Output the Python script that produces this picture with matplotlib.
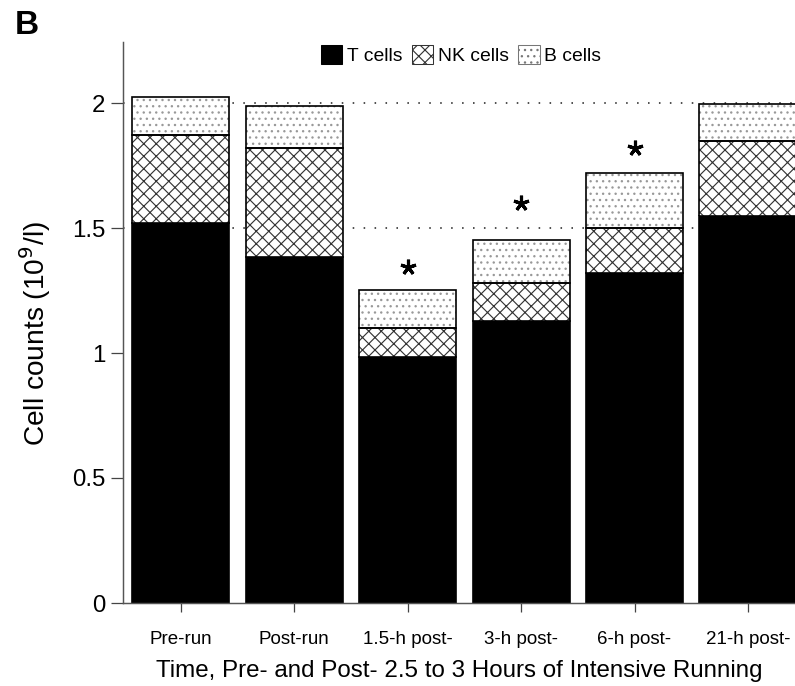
import numpy as np
from matplotlib import pyplot as plt
from matplotlib.patches import Patch

# values (10^9/l)
times = ["Pre-run", "Post-run", "1.5-h post-", "3-h post-", "6-h post-", "21-h post-"]
t_cells = [1.52, 1.384, 0.984, 1.128, 1.32, 1.549]
nk_cells = [0.352, 0.437, 0.116, 0.152, 0.18, 0.299]
b_cells = [0.152, 0.167, 0.152, 0.172, 0.22, 0.148]
star_x = [2, 3, 4]
star_y = [1.345, 1.60, 1.82]

plt.rcParams['font.family'] = ['Liberation Sans', 'DejaVu Sans']
plt.rcParams['hatch.linewidth'] = 1.1

fig = plt.figure(figsize=(10.6, 686 / 75), dpi=75)
ax = fig.add_axes([123 / 795, 83 / 686, 1 - 123 / 795, (603 - 42) / 686])

x = np.arange(len(times))
w = 0.855
t = np.array(t_cells)
nk = np.array(nk_cells)
b = np.array(b_cells)

for yv in [1.5, 2.0]:
    ax.axhline(yv, color='#222222', lw=1.5, ls=(0, (1, 6)), zorder=0)

# hatch colour follows edgecolor, so draw hatches first and outlines on top
ax.bar(x, t, w, color='black', edgecolor='black', lw=1.6, zorder=2)
ax.bar(x, nk, w, bottom=t, color='white', edgecolor='#333333', hatch='xx', lw=0, zorder=2)
ax.bar(x, b, w, bottom=t + nk, color='white', edgecolor='#999999', hatch='..', lw=0, zorder=2)
ax.bar(x, nk, w, bottom=t, fill=False, edgecolor='black', lw=1.6, zorder=3)
ax.bar(x, b, w, bottom=t + nk, fill=False, edgecolor='black', lw=1.6, zorder=3)

ax.plot(star_x, star_y, ls='none', marker=(5, 2, 0), ms=15, mew=3, color='black', zorder=3)

ax.set_xlim(-0.507, 5.414)
ax.set_ylim(0, 2.244)
ax.set_yticks([0, 0.5, 1, 1.5, 2])
ax.set_yticklabels(['0', '0.5', '1', '1.5', '2'])
ax.set_xticks(x)
ax.set_xticklabels(times)
ax.tick_params(axis='y', labelsize=23, length=12, width=1.2, pad=5, color='#444444')
ax.tick_params(axis='x', labelsize=18, length=9, width=1.2, pad=18, color='#444444')
for s in ['top', 'right']:
    ax.spines[s].set_visible(False)
ax.spines['left'].set_color('#555555')
ax.spines['bottom'].set_color('#555555')
ax.spines['left'].set_linewidth(1.4)
ax.spines['bottom'].set_linewidth(1.4)

ax.set_xlabel('Time, Pre- and Post- 2.5 to 3 Hours of Intensive Running', fontsize=23.2, labelpad=11)
ax.set_ylabel('Cell counts (10$^9$/l)', fontsize=27)
ax.yaxis.set_label_coords(-0.104, 0.48)

handles = [Patch(facecolor='black', edgecolor='black', label='T cells'),
           Patch(facecolor='white', edgecolor='#333333', hatch='xx', label='NK cells'),
           Patch(facecolor='white', edgecolor='#777777', hatch='..', label='B cells')]
fig.legend(handles=handles, loc='center', bbox_to_anchor=(461 / 795, 1 - 55 / 686), ncol=3,
           frameon=False, fontsize=18.5, handlelength=1.1, handleheight=1.1,
           handletextpad=0.25, columnspacing=0.5, borderpad=0)

fig.text(15 / 795, 1 - 26 / 686, 'B', fontsize=32, fontweight='bold', va='center', ha='left')

fig.savefig('out.png', dpi=75)
